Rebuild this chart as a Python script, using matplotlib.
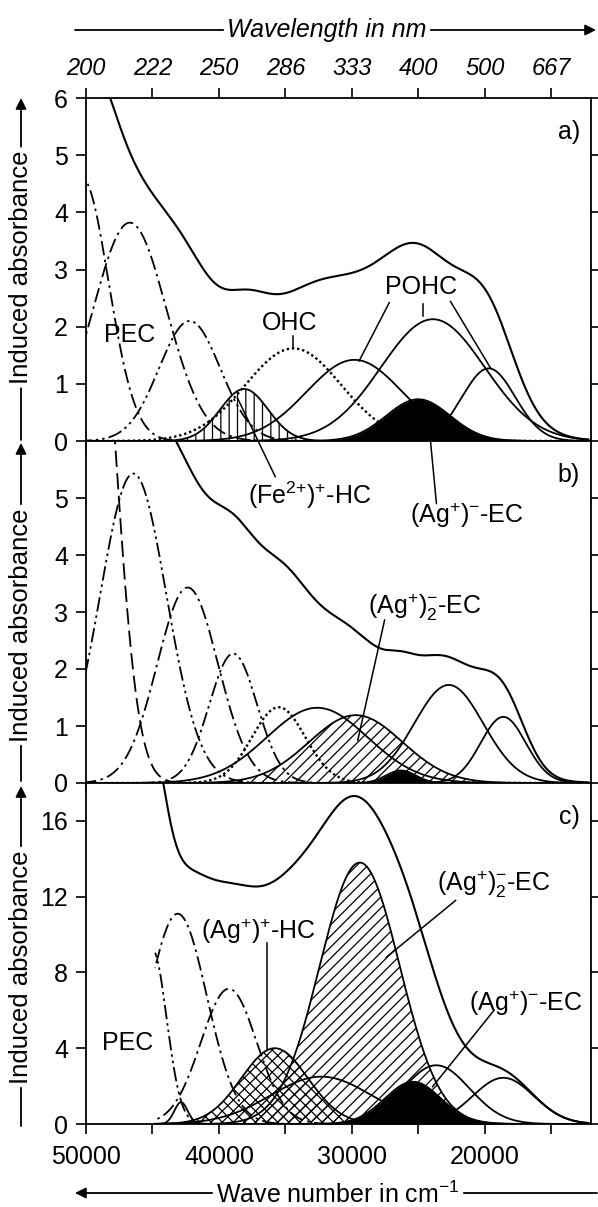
import numpy as np
import matplotlib.pyplot as plt
from matplotlib.patches import ConnectionPatch, FancyArrowPatch

plt.rcParams['font.family'] = ['Liberation Sans', 'DejaVu Sans']
plt.rcParams['mathtext.fontset'] = 'custom'
plt.rcParams['mathtext.rm'] = 'Liberation Sans'
plt.rcParams['mathtext.it'] = 'Liberation Sans:italic'
plt.rcParams['hatch.linewidth'] = 0.9

# gaussian bands: centre (cm-1), height, width sigma (cm-1)
a_center = [50300, 46700, 42200, 38100, 34400, 29800, 23900, 25000, 19700]
a_height = [4.6, 3.82, 2.1, 0.91, 1.62, 1.42, 2.13, 0.73, 1.27]
a_width = [2000, 2750, 2300, 1800, 3600, 3600, 3900, 2400, 2000]
# part of the measured spectrum that the drawn bands do not cover
a_rest_center = [36500]
a_rest_height = [0.25]
a_rest_width = [3500]

b_center = [49500, 46440, 42350, 38920, 35500, 32600, 29700, 26300, 22700, 18600]
b_height = [9.8, 5.43, 3.43, 2.27, 1.33, 1.32, 1.19, 0.22, 1.72, 1.16]
b_width = [1700, 2500, 2300, 1800, 2000, 3800, 3500, 1100, 2600, 1700]
b_rest_center = [30000, 36500, 42500]
b_rest_height = [0.42, 0.66, 0.22]
b_rest_width = [6500, 2300, 2000]

c_center = [45000, 43100, 39250, 35800, 32300, 29400, 25400, 23640, 18600]
c_height = [9.2, 11.1, 7.14, 4.0, 2.5, 13.8, 2.23, 3.1, 2.44]
c_width = [1070, 2200, 2100, 2500, 3800, 3000, 2100, 2500, 2300]
c_rest_center = [34700, 26000, 45000]
c_rest_height = [4.2, 0.85, 2.0]
c_rest_width = [2800, 1800, 600]
# small solid peak under the PEC bands, not part of the sum
c_small = (42850, 1.15, 500)

wn_ticks = [50000, 45000, 40000, 35000, 30000, 25000, 20000, 15000]
wn_labels = ['50000', '', '40000', '', '30000', '', '20000', '']
wl_labels = ['200', '222', '250', '286', '333', '400', '500', '667']

a_kind = ['dashdot', 'dashdot', 'dashdotdot', 'vhatch', 'dot', 'solid', 'solid', 'black', 'solid']
b_kind = ['dash', 'dashdotdot', 'dashdot', 'dashdotdot', 'dot', 'solid', 'slash', 'black', 'solid', 'solid']
c_kind = ['dashdotdot', 'dashdot', 'dashdot', 'cross', 'solid', 'slash', 'black', 'solid', 'solid']

FS = 18
LW = 1.3
dashes = {'dashdot': (0, (8, 2.5, 1.4, 2.5)),
          'dashdotdot': (0, (8, 2.2, 1.4, 2.2, 1.4, 2.2)),
          'dash': (0, (9, 3.5)),
          'dot': (0, (1, 1.2)),
          'solid': '-'}
hatches = {'vhatch': '||', 'slash': '///', 'cross': 'xxx'}


def gauss(nu, c, h, w):
    return h * np.exp(-(nu - c) ** 2 / (2.0 * w ** 2))


def draw_panel(ax, nu, centers, heights, widths, kinds, rest):
    total = np.zeros_like(nu)
    for c, h, w, k in zip(centers, heights, widths, kinds):
        y = gauss(nu, c, h, w)
        total += y
        if k == 'black':
            ax.fill_between(nu, 0, y, color='k', lw=0, zorder=3)
            ax.plot(nu, y, 'k-', lw=LW, zorder=3)
        elif k in hatches:
            ax.fill_between(nu, 0, y, facecolor='none', edgecolor='k',
                            hatch=hatches[k], lw=0, zorder=1.5)
            ax.plot(nu, y, 'k-', lw=LW)
        elif k == 'dot':
            ax.plot(nu, y, color='k', lw=1.7, ls=dashes[k])
        else:
            ax.plot(nu, y, color='k', lw=LW, ls=dashes[k])
    for c, h, w in zip(*rest):
        total += gauss(nu, c, h, w)
    ax.plot(nu, total, 'k-', lw=1.5, zorder=4)


fig = plt.figure(figsize=(5.98, 12.07), dpi=100)
L, W = 86 / 598, 505 / 598
ax_a = fig.add_axes([L, 1 - 441 / 1207, W, 343 / 1207])
ax_b = fig.add_axes([L, 1 - 783 / 1207, W, 342 / 1207])
ax_c = fig.add_axes([L, 1 - 1124 / 1207, W, 341 / 1207])

nu_ab = np.linspace(12200, 50000, 1000)
nu_c = np.linspace(12200, 44800, 1000)

draw_panel(ax_a, nu_ab, a_center, a_height, a_width, a_kind,
           (a_rest_center, a_rest_height, a_rest_width))
draw_panel(ax_b, nu_ab, b_center, b_height, b_width, b_kind,
           (b_rest_center, b_rest_height, b_rest_width))
draw_panel(ax_c, nu_c, c_center, c_height, c_width, c_kind,
           (c_rest_center, c_rest_height, c_rest_width))
ax_c.plot(nu_c, gauss(nu_c, *c_small), 'k-', lw=LW)

for ax in (ax_a, ax_b, ax_c):
    ax.set_xlim(50000, 12000)
    ax.set_xticks(wn_ticks)
    ax.tick_params(direction='out', length=7, width=1.2, labelsize=FS,
                   right=True, pad=6)
    for s in ax.spines.values():
        s.set_linewidth(1.3)

ax_a.set_ylim(0, 6)
ax_a.set_yticks(range(0, 7))
ax_a.tick_params(axis='x', top=True, labeltop=True, labelbottom=False, labelsize=17)
ax_a.set_xticklabels(wl_labels)
for t in ax_a.get_xticklabels():
    t.set_style('italic')

ax_b.set_ylim(0, 6)
ax_b.set_yticks(range(0, 6))
ax_b.tick_params(axis='x', labelbottom=False)

ax_c.set_ylim(0, 18)
ax_c.set_yticks([0, 4, 8, 12, 16])
ax_c.set_xticklabels(wn_labels)
ax_c.tick_params(axis='x', pad=8)

for ax, tag in ((ax_a, 'a)'), (ax_b, 'b)'), (ax_c, 'c)')):
    ax.text(0.978, 0.9, tag, transform=ax.transAxes, ha='right', va='center', fontsize=FS)

# panel a labels
ax_a.text(46700, 1.85, 'PEC', ha='center', va='center', fontsize=FS)
ax_a.text(34700, 2.06, 'OHC', ha='center', va='center', fontsize=FS)
ax_a.plot([34450, 34450], [1.83, 1.63], 'k-', lw=1.1)
ax_a.text(24800, 2.70, 'POHC', ha='center', va='center', fontsize=FS)
ax_a.plot([27180, 29450], [2.42, 1.40], 'k-', lw=1.1)
ax_a.plot([24660, 24660], [2.39, 2.18], 'k-', lw=1.1)
ax_a.plot([22570, 19540], [2.44, 1.27], 'k-', lw=1.1)
ax_b.text(33150, 5.05, r'(Fe$^{2{+}}$)$^{+}$-HC', ha='center', va='center', fontsize=FS)
ax_b.text(21310, 4.70, r'(Ag$^{+}$)$^{-}$-EC', ha='center', va='center', fontsize=FS)
for xyb, xya in (((35750, 5.37), (38600, 0.75)), ((23630, 4.9), (24200, 0.3))):
    con = ConnectionPatch(xyA=xyb, coordsA=ax_b.transData, xyB=xya, coordsB=ax_a.transData,
                          color='k', lw=1.1)
    fig.add_artist(con)

# panel b labels
ax_b.text(24500, 3.09, r'(Ag$^{+}$)$_{2}^{-}$-EC', ha='center', va='center', fontsize=FS)
ax_b.plot([27530, 29550], [2.86, 0.75], 'k-', lw=1.1)

# panel c labels
ax_c.text(46900, 4.26, 'PEC', ha='center', va='center', fontsize=FS)
ax_c.text(37030, 10.15, r'(Ag$^{+}$)$^{+}$-HC', ha='center', va='center', fontsize=FS)
ax_c.plot([36400, 36400], [9.55, 3.98], 'k-', lw=1.1)
ax_c.text(19300, 12.67, r'(Ag$^{+}$)$_{2}^{-}$-EC', ha='center', va='center', fontsize=FS)
ax_c.plot([22190, 27400], [11.8, 8.8], 'k-', lw=1.1)
ax_c.text(16870, 6.37, r'(Ag$^{+}$)$^{-}$-EC', ha='center', va='center', fontsize=FS)
ax_c.plot([19300, 23920], [6.0, 1.97], 'k-', lw=1.1)

# axis titles drawn with arrows, as in the original
H = 1207.0
titles = []
for yc, top, bottom in ((267.5, 98, 440), (625, 443, 781), (967, 786, 1126)):
    t = fig.text(21 / 598, 1 - yc / H, 'Induced absorbance', rotation=90,
                 ha='center', va='center', fontsize=18.5)
    titles.append((t, 'y', top, bottom))
t = fig.text(327 / 598, 1 - 30 / H, 'Wavelength in nm', ha='center', va='center',
             fontsize=FS, style='italic')
titles.append((t, 'top', 75, 596))
t = fig.text(338 / 598, 1 - 1195 / H, r'Wave number in cm$^{-1}$', ha='center',
             va='center', fontsize=FS)
titles.append((t, 'bottom', 75, 597))

fig.canvas.draw()
r = fig.canvas.get_renderer()
inv = fig.transFigure.inverted()


def seg(p0, p1, arrow):
    style = '-|>' if arrow else '-'
    fig.add_artist(FancyArrowPatch(p0, p1, transform=fig.transFigure, arrowstyle=style,
                                   mutation_scale=16, lw=1.3, color='k',
                                   shrinkA=0, shrinkB=0))


for t, kind, p, q in titles:
    bb = t.get_window_extent(r).transformed(inv)
    if kind == 'y':
        x = 21 / 598
        seg((x, 1 - q / H), (x, bb.y0 - 4 / H), False)
        seg((x, bb.y1 + 4 / H), (x, 1 - p / H), True)
    elif kind == 'top':
        y = 1 - 30 / H
        seg((p / 598, y), (bb.x0 - 4 / 598, y), False)
        seg((bb.x1 + 4 / 598, y), (q / 598, y), True)
    else:
        y = 1 - 1193 / H
        seg((bb.x0 - 4 / 598, y), (p / 598, y), True)
        seg((bb.x1 + 4 / 598, y), (q / 598, y), False)

fig.savefig('out.png', dpi=100)
